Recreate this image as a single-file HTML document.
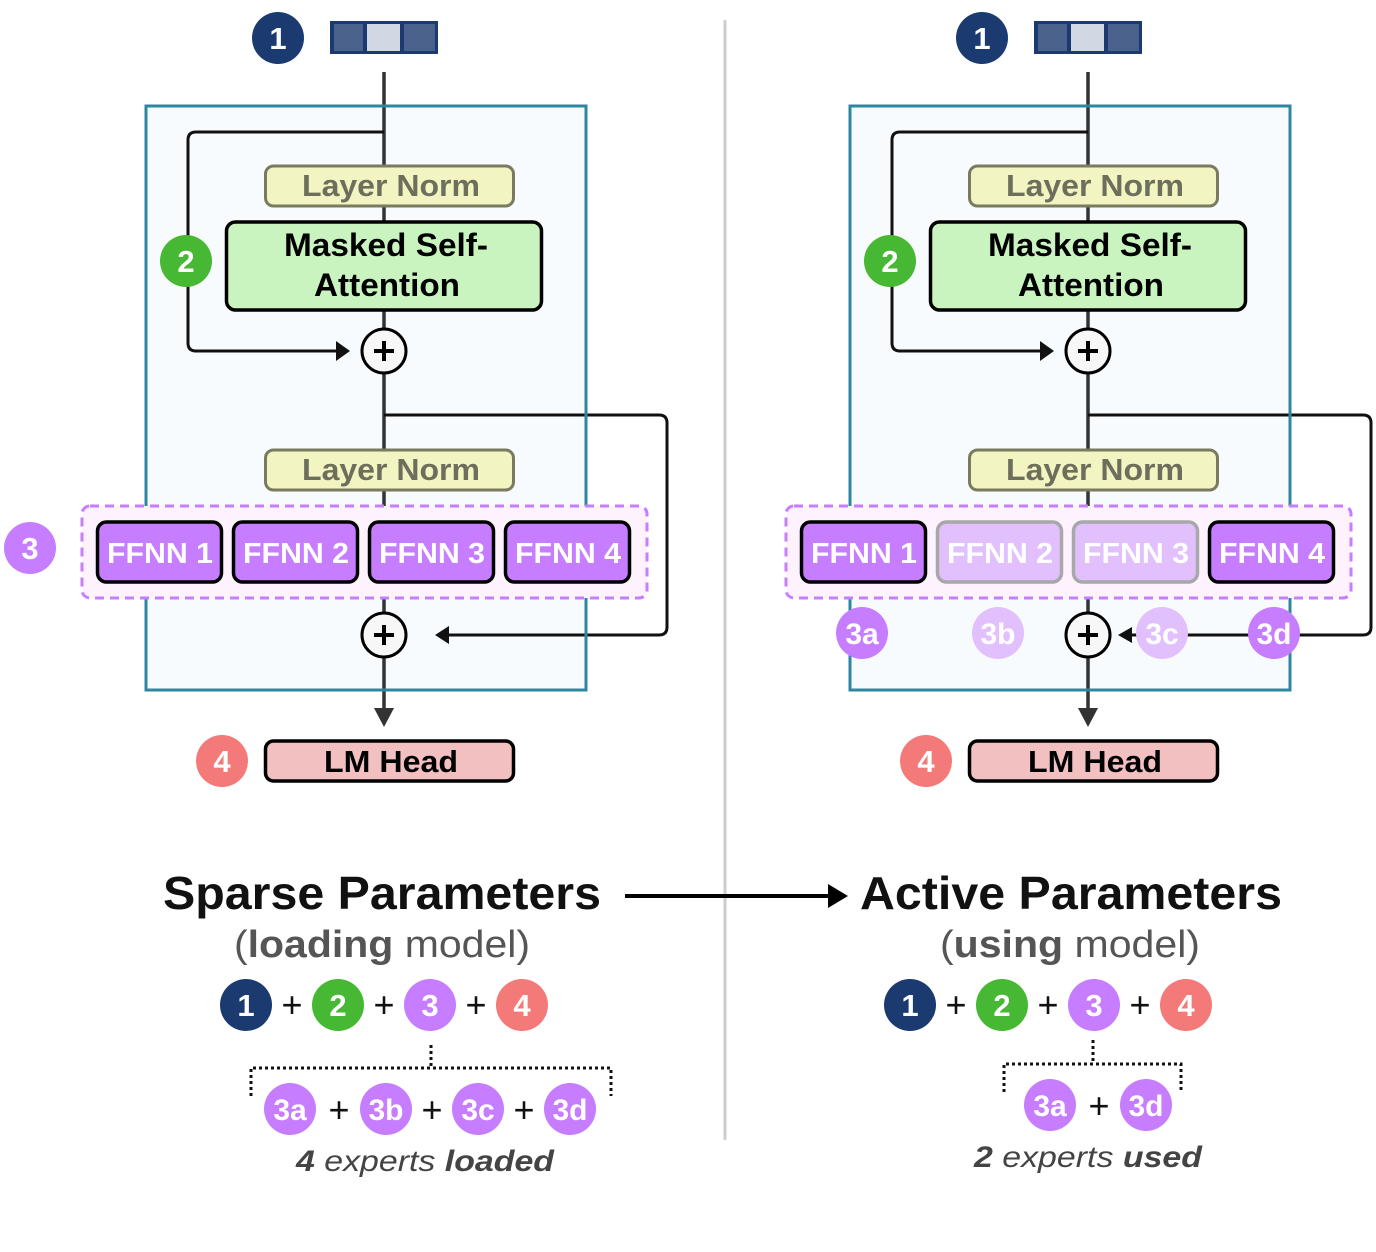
<!DOCTYPE html>
<html><head><meta charset="utf-8"><style>
html,body{margin:0;padding:0;background:#fff;}
svg{display:block;font-family:"Liberation Sans",sans-serif;}
.b{font-weight:bold;}
</style></head><body>
<svg width="1376" height="1252" viewBox="0 0 1376 1252" xmlns="http://www.w3.org/2000/svg">
<line x1="725" y1="20" x2="725" y2="1140" stroke="#ccc" stroke-width="3"/>

<g id="panel">
<circle cx="278" cy="38" r="26" fill="#1b3a70"/>
<text x="278" y="49" font-size="31" class="b" fill="#fff" text-anchor="middle">1</text>
<rect x="330" y="21" width="108" height="33" fill="#1b3a70"/>
<rect x="334" y="24" width="29" height="27" fill="#4b628c"/>
<rect x="367" y="24" width="33" height="27" fill="#d1d8e4"/>
<rect x="404" y="24" width="31" height="27" fill="#4b628c"/>
<rect x="146" y="106" width="440" height="584" fill="#f7fbfe"/>
<line x1="384" y1="72" x2="384" y2="710" stroke="#333" stroke-width="3.5"/>
<path d="M384,708 L374,708 L384,727 L394,708 z" fill="#333"/>
<path d="M384,132 H196 Q188,132 188,140 V343 Q188,351 196,351 H340" fill="none" stroke="#111" stroke-width="3"/>
<path d="M336,341 L350,351 L336,361 z" fill="#111"/>
<path d="M384,415 H659 Q667,415 667,423 V627 Q667,635 659,635 H448" fill="none" stroke="#111" stroke-width="3"/>
<path d="M449,626 L435,635 L449,644 z" fill="#111"/>
<rect x="146" y="106" width="440" height="584" fill="none" stroke="#2e86a0" stroke-width="3"/>
<rect x="265.5" y="166" width="248" height="40" rx="8" fill="#f2f5c2" stroke="#7a7a5e" stroke-width="3"/>
<text x="391" y="196" font-size="31" class="b" fill="#6e6e5c" text-anchor="middle" textLength="178" lengthAdjust="spacingAndGlyphs">Layer Norm</text>
<rect x="226.5" y="222" width="315" height="88" rx="9" fill="#c9f4c0" stroke="#000" stroke-width="3.5"/>
<text x="386" y="256" font-size="32" class="b" fill="#000" text-anchor="middle" textLength="204" lengthAdjust="spacingAndGlyphs">Masked Self-</text>
<text x="387" y="296" font-size="32" class="b" fill="#000" text-anchor="middle" textLength="146" lengthAdjust="spacingAndGlyphs">Attention</text>
<circle cx="186" cy="261" r="26" fill="#47b833"/>
<text x="186" y="272" font-size="31" class="b" fill="#fff" text-anchor="middle">2</text>
<circle cx="384" cy="351" r="22" fill="#f7f7f7" stroke="#000" stroke-width="3"/>
<path d="M374,351 H394 M384,341 V361" stroke="#000" stroke-width="4"/>
<rect x="265.5" y="450" width="248" height="40" rx="8" fill="#f2f5c2" stroke="#7a7a5e" stroke-width="3"/>
<text x="391" y="480" font-size="31" class="b" fill="#6e6e5c" text-anchor="middle" textLength="178" lengthAdjust="spacingAndGlyphs">Layer Norm</text>
<circle cx="384" cy="635" r="22" fill="#f7f7f7" stroke="#000" stroke-width="3"/>
<path d="M374,635 H394 M384,625 V645" stroke="#000" stroke-width="4"/>
<rect x="265.5" y="741" width="248" height="40" rx="8" fill="#f2c0c0" stroke="#000" stroke-width="3.5"/>
<text x="391" y="772" font-size="31" class="b" fill="#000" text-anchor="middle" textLength="134" lengthAdjust="spacingAndGlyphs">LM Head</text>
<circle cx="222" cy="761" r="26" fill="#f47a7a"/>
<text x="222" y="772" font-size="31" class="b" fill="#fff" text-anchor="middle">4</text>
<rect x="82" y="506" width="565" height="92" rx="8" fill="#fdf2fd" stroke="#c77dff" stroke-width="3" stroke-dasharray="9,6"/>
</g>

<use href="#panel" transform="translate(704,0)"/>

<g font-size="29" class="b" fill="#fff" text-anchor="middle">
<rect x="97.5" y="522" width="124" height="60" rx="9" fill="#c77dff" stroke="#000" stroke-width="3.5"/>
<rect x="233.5" y="522" width="124" height="60" rx="9" fill="#c77dff" stroke="#000" stroke-width="3.5"/>
<rect x="369.5" y="522" width="124" height="60" rx="9" fill="#c77dff" stroke="#000" stroke-width="3.5"/>
<rect x="505.5" y="522" width="124" height="60" rx="9" fill="#c77dff" stroke="#000" stroke-width="3.5"/>
<text x="160" y="563" textLength="106" lengthAdjust="spacingAndGlyphs">FFNN 1</text><text x="296" y="563" textLength="106" lengthAdjust="spacingAndGlyphs">FFNN 2</text><text x="432" y="563" textLength="106" lengthAdjust="spacingAndGlyphs">FFNN 3</text><text x="568" y="563" textLength="106" lengthAdjust="spacingAndGlyphs">FFNN 4</text>
</g>
<circle cx="30" cy="548" r="26" fill="#c77dff"/>
<text x="30" y="559" font-size="31" class="b" fill="#fff" text-anchor="middle">3</text>

<g font-size="29" class="b" fill="#fff" text-anchor="middle">
<rect x="801.5" y="522" width="124" height="60" rx="9" fill="#c77dff" stroke="#000" stroke-width="3.5"/>
<rect x="937.5" y="522" width="124" height="60" rx="9" fill="#e2c0fd" stroke="#a8a8a8" stroke-width="3.5"/>
<rect x="1073.5" y="522" width="124" height="60" rx="9" fill="#e2c0fd" stroke="#a8a8a8" stroke-width="3.5"/>
<rect x="1209.5" y="522" width="124" height="60" rx="9" fill="#c77dff" stroke="#000" stroke-width="3.5"/>
<text x="864" y="563" textLength="106" lengthAdjust="spacingAndGlyphs">FFNN 1</text><text x="1000" y="563" textLength="106" lengthAdjust="spacingAndGlyphs">FFNN 2</text><text x="1136" y="563" textLength="106" lengthAdjust="spacingAndGlyphs">FFNN 3</text><text x="1272" y="563" textLength="106" lengthAdjust="spacingAndGlyphs">FFNN 4</text>
</g>
<line x1="1150" y1="635" x2="1125" y2="635" stroke="#111" stroke-width="3"/>
<path d="M1132,627 L1118,635 L1132,643 z" fill="#111"/>
<g font-size="30" class="b" fill="#fff" text-anchor="middle">
<circle cx="862" cy="633" r="26" fill="#c77dff"/><text x="862" y="644">3a</text>
<circle cx="998" cy="633" r="26" fill="#e2c0fd"/><text x="998" y="644">3b</text>
<circle cx="1162" cy="633" r="26" fill="#e2c0fd"/><text x="1162" y="644">3c</text>
<circle cx="1274" cy="633" r="26" fill="#c77dff"/><text x="1274" y="644">3d</text>
</g>

<text x="382" y="909" font-size="46" class="b" fill="#111" text-anchor="middle" textLength="438" lengthAdjust="spacingAndGlyphs">Sparse Parameters</text>
<text x="382" y="957" font-size="38" fill="#555" text-anchor="middle" textLength="296" lengthAdjust="spacingAndGlyphs">(<tspan class="b">loading</tspan> model)</text>
<text x="1071" y="909" font-size="46" class="b" fill="#111" text-anchor="middle" textLength="422" lengthAdjust="spacingAndGlyphs">Active Parameters</text>
<text x="1070" y="957" font-size="38" fill="#555" text-anchor="middle" textLength="260" lengthAdjust="spacingAndGlyphs">(<tspan class="b">using</tspan> model)</text>
<line x1="625" y1="896" x2="832" y2="896" stroke="#000" stroke-width="4"/>
<path d="M828,884 L848,896 L828,908 z" fill="#000"/>

<g font-size="31" class="b" text-anchor="middle">
<circle cx="246" cy="1005" r="26" fill="#1b3a70"/><text x="246" y="1016" fill="#fff">1</text>
<circle cx="338" cy="1005" r="26" fill="#47b833"/><text x="338" y="1016" fill="#fff">2</text>
<circle cx="430" cy="1005" r="26" fill="#c77dff"/><text x="430" y="1016" fill="#fff">3</text>
<circle cx="522" cy="1005" r="26" fill="#f47a7a"/><text x="522" y="1016" fill="#fff">4</text>
<text x="292" y="1017" fill="#111" font-weight="normal" font-size="36">+</text>
<text x="384" y="1017" fill="#111" font-weight="normal" font-size="36">+</text>
<text x="476" y="1017" fill="#111" font-weight="normal" font-size="36">+</text>
<circle cx="910" cy="1005" r="26" fill="#1b3a70"/><text x="910" y="1016" fill="#fff">1</text>
<circle cx="1002" cy="1005" r="26" fill="#47b833"/><text x="1002" y="1016" fill="#fff">2</text>
<circle cx="1094" cy="1005" r="26" fill="#c77dff"/><text x="1094" y="1016" fill="#fff">3</text>
<circle cx="1186" cy="1005" r="26" fill="#f47a7a"/><text x="1186" y="1016" fill="#fff">4</text>
<text x="956" y="1017" fill="#111" font-weight="normal" font-size="36">+</text>
<text x="1048" y="1017" fill="#111" font-weight="normal" font-size="36">+</text>
<text x="1140" y="1017" fill="#111" font-weight="normal" font-size="36">+</text>
</g>
<g fill="none" stroke="#111" stroke-width="3" stroke-dasharray="3,3">
<path d="M431,1045 V1068 M251,1096 V1068 H611 V1096"/>
<path d="M1093,1040 V1064 M1004,1092 V1064 H1181 V1092"/>
</g>
<g font-size="30" class="b" fill="#fff" text-anchor="middle">
<circle cx="290" cy="1109" r="26" fill="#c77dff"/><text x="290" y="1120">3a</text>
<circle cx="386" cy="1109" r="26" fill="#c77dff"/><text x="386" y="1120">3b</text>
<circle cx="478" cy="1109" r="26" fill="#c77dff"/><text x="478" y="1120">3c</text>
<circle cx="570" cy="1109" r="26" fill="#c77dff"/><text x="570" y="1120">3d</text>
<circle cx="1050" cy="1105" r="26" fill="#c77dff"/><text x="1050" y="1116">3a</text>
<circle cx="1146" cy="1105" r="26" fill="#c77dff"/><text x="1146" y="1116">3d</text>
</g>
<g font-size="36" fill="#111" text-anchor="middle">
<text x="339" y="1122">+</text><text x="432" y="1122">+</text><text x="524" y="1122">+</text>
<text x="1099" y="1118">+</text>
</g>
<text x="425" y="1171" font-size="30" font-style="italic" fill="#444" text-anchor="middle" textLength="258" lengthAdjust="spacingAndGlyphs"><tspan class="b">4</tspan> experts <tspan class="b">loaded</tspan></text>
<text x="1088" y="1167" font-size="30" font-style="italic" fill="#444" text-anchor="middle" textLength="228" lengthAdjust="spacingAndGlyphs"><tspan class="b">2</tspan> experts <tspan class="b">used</tspan></text>
</svg>
</body></html>
